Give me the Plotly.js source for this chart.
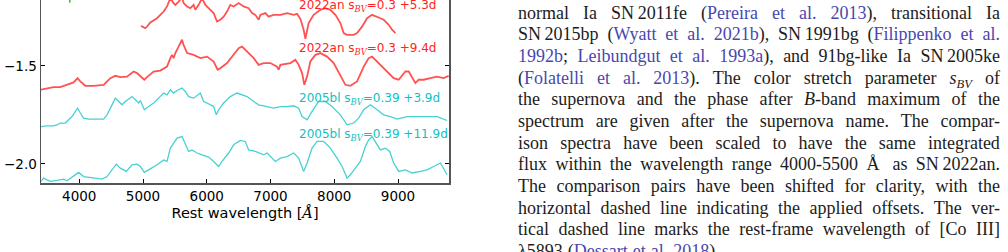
<!DOCTYPE html>
<html>
<head>
<meta charset="utf-8">
<script src="https://cdn.plot.ly/plotly-3.0.1.min.js"></script>
<style>
  html, body { margin:0; padding:0; background:#fff; }
  body { width:1008px; height:252px; overflow:hidden; position:relative; }
  #chart { position:absolute; left:0; top:-60px; width:460px; height:312px; }
  .ln { position:absolute; left:518px; width:482px; height:22px; line-height:22px;
        display:flex; justify-content:space-between; white-space:nowrap;
        font-family:'Liberation Serif','DejaVu Serif',serif; font-size:18px; color:#1c1c1c; }
  .ln.last { justify-content:flex-start; gap:5px; }
  .l { color:#4848ae; }
  sub { font-size:0.7em; vertical-align:-0.3em; line-height:0; }
</style>
</head>
<body>
<div id="chart"></div>
<div id="caption"></div>
<script>
// ---- data ----
const sn2022an_53d_wave = [4969,5036,5063,5115,5220,5272,5324,5377,5402,5429,5480,5507,5559,5612,5637,5691,5742,5794,5821,5873,5926,5978,6056,6108,6161,6213,6265,6318,6370,6422,6500,6579,6657,6711,6762,6814,6841,6919,6971,7049,7155,7260,7363,7417,7468,7520,7547,7574,7599,7677,7782,7861,7939,8018,8096,8148,8201,8305,8358,8436,8515,8593,8672,8724,8775,8854,8907,8959];
const sn2022an_53d_flux = [-1.296,-1.308,-1.300,-1.279,-1.257,-1.240,-1.223,-1.197,-1.172,-1.155,-1.180,-1.189,-1.172,-1.150,-1.180,-1.197,-1.206,-1.189,-1.214,-1.189,-1.155,-1.189,-1.214,-1.231,-1.274,-1.265,-1.249,-1.223,-1.189,-1.197,-1.180,-1.197,-1.206,-1.231,-1.240,-1.265,-1.240,-1.231,-1.249,-1.240,-1.240,-1.231,-1.240,-1.235,-1.260,-1.316,-1.362,-1.325,-1.282,-1.240,-1.214,-1.206,-1.214,-1.240,-1.282,-1.333,-1.342,-1.342,-1.333,-1.300,-1.257,-1.240,-1.249,-1.257,-1.265,-1.291,-1.316,-1.333];

const sn2022an_94d_wave = [3400,3494,3598,3703,3808,3911,3974,4017,4095,4225,4382,4487,4566,4644,4749,4853,4906,4958,5021,5063,5167,5272,5377,5429,5455,5480,5507,5559,5612,5637,5691,5794,5899,6005,6108,6171,6213,6318,6422,6500,6554,6632,6736,6814,6893,6998,7103,7128,7155,7312,7390,7442,7495,7531,7574,7625,7704,7782,7887,7991,8096,8175,8253,8358,8462,8540,8593,8672,8775,8854,8932,9011,9116,9168,9221,9273,9324,9403,9508,9613,9717,9795];
const sn2022an_94d_flux = [-1.622,-1.614,-1.609,-1.609,-1.597,-1.585,-1.563,-1.580,-1.602,-1.602,-1.597,-1.563,-1.551,-1.558,-1.555,-1.529,-1.537,-1.551,-1.571,-1.558,-1.529,-1.524,-1.504,-1.461,-1.444,-1.461,-1.435,-1.402,-1.367,-1.393,-1.435,-1.444,-1.461,-1.453,-1.478,-1.520,-1.512,-1.486,-1.444,-1.410,-1.402,-1.427,-1.461,-1.495,-1.486,-1.486,-1.504,-1.520,-1.495,-1.486,-1.469,-1.495,-1.537,-1.597,-1.555,-1.478,-1.444,-1.435,-1.453,-1.486,-1.546,-1.597,-1.602,-1.580,-1.504,-1.461,-1.453,-1.478,-1.512,-1.537,-1.563,-1.571,-1.529,-1.529,-1.563,-1.588,-1.571,-1.571,-1.563,-1.555,-1.563,-1.551];

const sn2005bl_39d_wave = [3400,3494,3598,3651,3703,3781,3886,3938,3974,4017,4068,4147,4279,4382,4436,4503,4566,4618,4671,4723,4828,4880,4931,4958,5021,5088,5167,5245,5324,5377,5429,5480,5534,5612,5664,5716,5794,5899,5951,6005,6108,6150,6187,6265,6370,6475,6632,6736,6814,6946,7049,7155,7260,7363,7442,7495,7574,7652,7756,7861,7966,8096,8201,8305,8383,8462,8567,8672,8775,8881,8986,9143,9299,9456,9613,9770];
const sn2005bl_39d_flux = [-1.810,-1.806,-1.806,-1.801,-1.792,-1.792,-1.759,-1.733,-1.716,-1.741,-1.767,-1.772,-1.772,-1.772,-1.750,-1.708,-1.665,-1.682,-1.699,-1.682,-1.657,-1.673,-1.690,-1.677,-1.724,-1.708,-1.690,-1.665,-1.639,-1.648,-1.622,-1.639,-1.626,-1.614,-1.631,-1.657,-1.665,-1.639,-1.682,-1.690,-1.708,-1.750,-1.724,-1.690,-1.657,-1.639,-1.657,-1.682,-1.699,-1.708,-1.716,-1.708,-1.708,-1.704,-1.716,-1.759,-1.776,-1.733,-1.682,-1.682,-1.708,-1.750,-1.801,-1.792,-1.767,-1.724,-1.699,-1.724,-1.750,-1.759,-1.772,-1.759,-1.759,-1.762,-1.759,-1.779];

const sn2005bl_119d_wave = [3400,3441,3494,3546,3651,3755,3808,3886,3990,4068,4225,4357,4436,4514,4581,4644,4738,4828,4906,4958,5021,5088,5220,5324,5377,5429,5480,5534,5612,5664,5716,5769,5848,5926,6030,6108,6187,6240,6343,6422,6527,6605,6657,6762,6893,6946,7024,7076,7155,7260,7363,7442,7520,7574,7652,7730,7834,7939,8044,8123,8201,8253,8331,8410,8488,8540,8593,8645,8724,8802,8870,8932,9011,9116,9221,9351,9456,9560,9665,9770];
const sn2005bl_119d_flux = [-2.090,-2.073,-2.082,-2.090,-2.085,-2.078,-2.087,-2.068,-2.044,-2.065,-2.073,-2.078,-2.065,-2.031,-2.002,-2.022,-2.039,-2.005,-2.002,-2.014,-2.044,-2.031,-2.005,-1.980,-1.988,-1.920,-1.894,-1.869,-1.861,-1.903,-1.937,-1.929,-1.945,-1.954,-1.966,-1.988,-2.014,-1.988,-1.945,-1.903,-1.881,-1.886,-1.929,-1.937,-1.954,-1.945,-1.971,-1.988,-1.971,-1.963,-1.945,-1.971,-2.039,-1.996,-1.920,-1.886,-1.886,-1.920,-1.971,-2.014,-2.073,-2.056,-2.022,-1.988,-1.912,-1.878,-1.861,-1.886,-1.929,-1.920,-1.937,-1.996,-2.039,-2.031,-2.047,-2.039,-2.031,-2.014,-1.996,-2.056];

// fragment of the spectrum above the visible window
const upper_green_wave = [3840,3852,3864];
const upper_green_flux = [-1.10,-1.178,-1.10];

const label_texts = ['2022an s<sub><span style="font-family:\'DejaVu Serif\';font-style:italic">BV</span></sub>=0.3 +5.3d',
                     '2022an s<sub><span style="font-family:\'DejaVu Serif\';font-style:italic">BV</span></sub>=0.3 +9.4d',
                     '2005bl s<sub><span style="font-family:\'DejaVu Serif\';font-style:italic">BV</span></sub>=0.39 +3.9d',
                     '2005bl s<sub><span style="font-family:\'DejaVu Serif\';font-style:italic">BV</span></sub>=0.39 +11.9d'];
const label_wave = [7415, 7415, 7415, 7415];
const label_flux = [-1.196, -1.416, -1.668, -1.853];
const label_colors = ['#ff2424', '#ff2424', '#12bfbf', '#12bfbf'];

const x_tickvals = [4000, 5000, 6000, 7000, 8000, 9000];
const y_tickvals = [-2.0, -1.5];
const y_ticktext = ['\u22122.0', '\u22121.5'];

// ---- chart ----
const RED = 'rgba(255,0,0,0.68)';
const CYAN = 'rgba(0,191,191,0.72)';
const traces = [
  {x: upper_green_wave, y: upper_green_flux, mode:'lines', line:{color:'rgba(0,160,0,0.7)', width:1.5}},
  {x: sn2022an_53d_wave, y: sn2022an_53d_flux, mode:'lines', line:{color:RED, width:1.8}},
  {x: sn2022an_94d_wave, y: sn2022an_94d_flux, mode:'lines', line:{color:RED, width:1.8}},
  {x: sn2005bl_39d_wave, y: sn2005bl_39d_flux, mode:'lines', line:{color:CYAN, width:1.3}},
  {x: sn2005bl_119d_wave, y: sn2005bl_119d_flux, mode:'lines', line:{color:CYAN, width:1.3}}
];
const annotations = label_texts.map((t,i) => ({
  x: label_wave[i], y: label_flux[i], xref:'x', yref:'y', text:t, showarrow:false,
  xanchor:'left', yanchor:'middle', font:{family:'DejaVu Sans', size:12, color:label_colors[i]}
}));
const axfont = {family:'DejaVu Sans', size:13.5, color:'#000'};
const layout = {
  width:460, height:312,
  margin:{l:41, r:11, t:10, b:69},
  paper_bgcolor:'rgba(0,0,0,0)', plot_bgcolor:'#fff',
  showlegend:false,
  annotations: annotations,
  xaxis:{range:[3400,9800], tickvals:x_tickvals, ticks:'inside', ticklen:4, tickcolor:'#000', tickwidth:1,
         showline:true, linecolor:'#555', linewidth:1.5, mirror:'ticks', showgrid:false, zeroline:false,
         tickfont:axfont, title:{text:'Rest wavelength [<span style="font-family:\'DejaVu Serif\';font-style:italic">Å</span>]', font:{family:'DejaVu Sans', size:14.5, color:'#000'}, standoff:5}},
  yaxis:{range:[-2.098,-0.909], tickvals:y_tickvals, ticktext:y_ticktext, ticks:'inside', ticklen:4, tickcolor:'#000', tickwidth:1,
         showline:true, linecolor:'#555', linewidth:1.5, mirror:'ticks', showgrid:false, zeroline:false,
         tickfont:axfont}
};
Plotly.newPlot('chart', traces, layout, {staticPlot:true, displayModeBar:false});

// ---- caption text (page) ----
const B = s => '<span class="l">' + s + '</span>';
const caption_lines = [
  ['normal','Ia','SN&thinsp;2011fe','('+B('Pereira'),B('et'),B('al.'),B('2013')+'),','transitional','Ia'],
  ['SN&thinsp;2015bp','('+B('Wyatt'),B('et'),B('al.'),B('2021b')+'),','SN&thinsp;1991bg','('+B('Filippenko'),B('et'),B('al.')],
  [B('1992b')+';',B('Leibundgut'),B('et'),B('al.'),B('1993a')+'),','and','91bg-like','Ia','SN&thinsp;2005ke'],
  ['('+B('Folatelli'),B('et'),B('al.'),B('2013')+').','The','color','stretch','parameter','<i>s</i><sub><i>BV</i></sub>','of'],
  ['the','supernova','and','the','phase','after','<i>B</i>-band','maximum','of','the'],
  ['spectrum','are','given','after','the','supernova','name.','The','compar-'],
  ['ison','spectra','have','been','scaled','to','have','the','same','integrated'],
  ['flux','within','the','wavelength','range','4000-5500','Å&nbsp;','as','SN&thinsp;2022an.'],
  ['The','comparison','pairs','have','been','shifted','for','clarity,','with','the'],
  ['horizontal','dashed','line','indicating','the','applied','offsets.','The','ver-'],
  ['tical','dashed','line','marks','the','rest-frame','wavelength','of','[Co','III]'],
  ['λ5893','('+B('Dessart'),B('et'),B('al.'),B('2018')+').']
];
const cap = document.getElementById('caption');
caption_lines.forEach((toks, i) => {
  const d = document.createElement('div');
  d.className = 'ln' + (i === caption_lines.length-1 ? ' last' : '');
  d.style.top = (1.6 + i*21.67) + 'px';
  d.innerHTML = toks.map(t => '<span>' + t + '</span>').join('');
  cap.appendChild(d);
  let w = 0; d.querySelectorAll(':scope > span').forEach(s => w += s.getBoundingClientRect().width);
  const need = w + (toks.length-1)*3.5;
  if (need > 482) d.style.fontSize = (18*482/need).toFixed(2) + 'px';
});
</script>
</body>
</html>
